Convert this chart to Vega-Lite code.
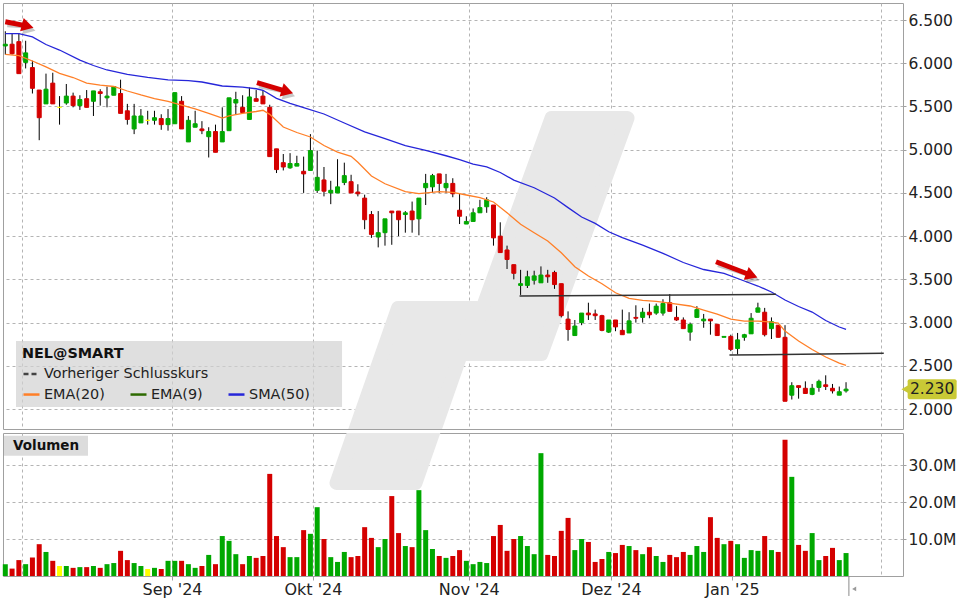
{
  "$schema": "https://vega.github.io/schema/vega-lite/v6.json",
  "padding": {"left": 2, "top": 2, "right": 0, "bottom": 0},
  "background": "white",
  "spacing": 2,
  "config": {
    "font": "DejaVu Sans",
    "view": {"stroke": "#a0a0a0", "strokeWidth": 1},
    "axis": {"labelFont": "DejaVu Sans", "labelFontSize": 15.5, "labelColor": "#222222", "gridColor": "#b4b4b4", "gridDash": [3, 3], "gridWidth": 1, "tickColor": "#a0a0a0", "domain": false}
  },
  "datasets": {
    "ohlc": [
      {"t":1,"o":6.20,"h":6.37,"l":6.10,"c":6.22,"v":3200000},
      {"t":2,"o":6.22,"h":6.34,"l":6.10,"c":6.11,"v":2000000},
      {"t":3,"o":6.25,"h":6.35,"l":5.88,"c":5.88,"v":4300000},
      {"t":4,"o":6.01,"h":6.26,"l":5.94,"c":6.12,"v":3200000},
      {"t":5,"o":5.95,"h":6.03,"l":5.65,"c":5.71,"v":5000000},
      {"t":6,"o":5.69,"h":5.69,"l":5.11,"c":5.37,"v":8600000},
      {"t":7,"o":5.53,"h":5.88,"l":5.53,"c":5.70,"v":6500000},
      {"t":8,"o":5.77,"h":5.89,"l":5.53,"c":5.53,"v":4100000},
      {"t":9,"o":5.49,"h":5.62,"l":5.29,"c":5.49,"v":2700000},
      {"t":10,"o":5.54,"h":5.76,"l":5.52,"c":5.62,"v":2700000},
      {"t":11,"o":5.62,"h":5.66,"l":5.49,"c":5.51,"v":2200000},
      {"t":12,"o":5.51,"h":5.63,"l":5.46,"c":5.58,"v":2400000},
      {"t":13,"o":5.59,"h":5.69,"l":5.49,"c":5.49,"v":2400000},
      {"t":14,"o":5.56,"h":5.68,"l":5.39,"c":5.68,"v":2700000},
      {"t":15,"o":5.67,"h":5.70,"l":5.51,"c":5.65,"v":2200000},
      {"t":16,"o":5.60,"h":5.73,"l":5.49,"c":5.62,"v":3200000},
      {"t":17,"o":5.63,"h":5.73,"l":5.63,"c":5.73,"v":3500000},
      {"t":18,"o":5.65,"h":5.81,"l":5.42,"c":5.42,"v":6800000},
      {"t":19,"o":5.45,"h":5.53,"l":5.29,"c":5.35,"v":4300000},
      {"t":20,"o":5.24,"h":5.53,"l":5.18,"c":5.39,"v":3500000},
      {"t":21,"o":5.31,"h":5.47,"l":5.31,"c":5.39,"v":2700000},
      {"t":22,"o":5.34,"h":5.45,"l":5.29,"c":5.34,"v":1900000},
      {"t":23,"o":5.34,"h":5.45,"l":5.29,"c":5.37,"v":2200000},
      {"t":24,"o":5.36,"h":5.41,"l":5.23,"c":5.29,"v":1900000},
      {"t":25,"o":5.29,"h":5.47,"l":5.22,"c":5.36,"v":4100000},
      {"t":26,"o":5.30,"h":5.66,"l":5.30,"c":5.66,"v":4100000},
      {"t":27,"o":5.56,"h":5.62,"l":5.24,"c":5.24,"v":4100000},
      {"t":28,"o":5.09,"h":5.39,"l":5.09,"c":5.34,"v":3200000},
      {"t":29,"o":5.26,"h":5.45,"l":5.26,"c":5.30,"v":2200000},
      {"t":30,"o":5.24,"h":5.33,"l":5.18,"c":5.22,"v":2700000},
      {"t":31,"o":5.15,"h":5.26,"l":4.91,"c":5.21,"v":5700000},
      {"t":32,"o":5.21,"h":5.29,"l":4.97,"c":4.97,"v":3200000},
      {"t":33,"o":5.09,"h":5.49,"l":5.09,"c":5.21,"v":10800000},
      {"t":34,"o":5.22,"h":5.60,"l":5.22,"c":5.60,"v":9500000},
      {"t":35,"o":5.54,"h":5.67,"l":5.41,"c":5.58,"v":5900000},
      {"t":36,"o":5.49,"h":5.63,"l":5.43,"c":5.43,"v":3200000},
      {"t":37,"o":5.35,"h":5.72,"l":5.35,"c":5.61,"v":5400000},
      {"t":38,"o":5.59,"h":5.69,"l":5.56,"c":5.56,"v":4900000},
      {"t":39,"o":5.62,"h":5.69,"l":5.53,"c":5.53,"v":5400000},
      {"t":40,"o":5.49,"h":5.52,"l":4.92,"c":4.92,"v":27600000},
      {"t":41,"o":5.01,"h":5.01,"l":4.73,"c":4.77,"v":10800000},
      {"t":42,"o":4.85,"h":4.95,"l":4.76,"c":4.80,"v":7800000},
      {"t":43,"o":4.79,"h":4.96,"l":4.78,"c":4.84,"v":5100000},
      {"t":44,"o":4.81,"h":4.93,"l":4.81,"c":4.84,"v":5100000},
      {"t":45,"o":4.75,"h":4.92,"l":4.50,"c":4.72,"v":12400000},
      {"t":46,"o":4.76,"h":5.18,"l":4.76,"c":4.99,"v":11400000},
      {"t":47,"o":4.53,"h":4.99,"l":4.50,"c":4.68,"v":18600000},
      {"t":48,"o":4.65,"h":4.80,"l":4.46,"c":4.52,"v":10000000},
      {"t":49,"o":4.50,"h":4.64,"l":4.37,"c":4.53,"v":5100000},
      {"t":50,"o":4.50,"h":4.89,"l":4.50,"c":4.57,"v":3800000},
      {"t":51,"o":4.62,"h":4.85,"l":4.59,"c":4.70,"v":6500000},
      {"t":52,"o":4.63,"h":4.71,"l":4.50,"c":4.50,"v":5100000},
      {"t":53,"o":4.51,"h":4.60,"l":4.46,"c":4.49,"v":5400000},
      {"t":54,"o":4.44,"h":4.48,"l":4.08,"c":4.19,"v":13200000},
      {"t":55,"o":4.25,"h":4.29,"l":3.98,"c":4.02,"v":10300000},
      {"t":56,"o":3.99,"h":4.29,"l":3.87,"c":4.04,"v":7800000},
      {"t":57,"o":4.04,"h":4.20,"l":3.89,"c":4.20,"v":10000000},
      {"t":58,"o":4.29,"h":4.29,"l":3.90,"c":4.27,"v":21600000},
      {"t":59,"o":4.29,"h":4.29,"l":4.00,"c":4.19,"v":11600000},
      {"t":60,"o":4.25,"h":4.29,"l":4.04,"c":4.27,"v":8100000},
      {"t":61,"o":4.29,"h":4.40,"l":4.04,"c":4.19,"v":7800000},
      {"t":62,"o":4.20,"h":4.44,"l":4.01,"c":4.44,"v":23200000},
      {"t":63,"o":4.56,"h":4.72,"l":4.36,"c":4.61,"v":12400000},
      {"t":64,"o":4.57,"h":4.72,"l":4.50,"c":4.70,"v":7300000},
      {"t":65,"o":4.72,"h":4.72,"l":4.50,"c":4.61,"v":5400000},
      {"t":66,"o":4.56,"h":4.72,"l":4.50,"c":4.61,"v":4900000},
      {"t":67,"o":4.61,"h":4.67,"l":4.45,"c":4.49,"v":5400000},
      {"t":68,"o":4.30,"h":4.49,"l":4.14,"c":4.23,"v":7000000},
      {"t":69,"o":4.14,"h":4.23,"l":4.14,"c":4.17,"v":4100000},
      {"t":70,"o":4.17,"h":4.32,"l":4.17,"c":4.27,"v":3200000},
      {"t":71,"o":4.27,"h":4.42,"l":4.27,"c":4.33,"v":3800000},
      {"t":72,"o":4.34,"h":4.45,"l":4.27,"c":4.42,"v":3500000},
      {"t":73,"o":4.36,"h":4.36,"l":3.89,"c":3.98,"v":10800000},
      {"t":74,"o":4.00,"h":4.16,"l":3.81,"c":3.81,"v":13800000},
      {"t":75,"o":3.84,"h":3.89,"l":3.62,"c":3.73,"v":6800000},
      {"t":76,"o":3.67,"h":3.67,"l":3.50,"c":3.57,"v":10000000},
      {"t":77,"o":3.43,"h":3.61,"l":3.32,"c":3.45,"v":10800000},
      {"t":78,"o":3.43,"h":3.60,"l":3.40,"c":3.53,"v":8100000},
      {"t":79,"o":3.49,"h":3.60,"l":3.44,"c":3.54,"v":5900000},
      {"t":80,"o":3.46,"h":3.65,"l":3.46,"c":3.55,"v":33200000},
      {"t":81,"o":3.55,"h":3.61,"l":3.46,"c":3.53,"v":5700000},
      {"t":82,"o":3.58,"h":3.60,"l":3.39,"c":3.44,"v":5400000},
      {"t":83,"o":3.45,"h":3.45,"l":3.06,"c":3.08,"v":12200000},
      {"t":84,"o":3.04,"h":3.13,"l":2.79,"c":2.92,"v":15700000},
      {"t":85,"o":2.85,"h":3.03,"l":2.85,"c":2.96,"v":7000000},
      {"t":86,"o":3.00,"h":3.11,"l":2.97,"c":3.11,"v":10000000},
      {"t":87,"o":3.11,"h":3.23,"l":3.03,"c":3.09,"v":9200000},
      {"t":88,"o":3.10,"h":3.15,"l":3.03,"c":3.08,"v":3800000},
      {"t":89,"o":3.08,"h":3.09,"l":2.90,"c":2.91,"v":4600000},
      {"t":90,"o":2.89,"h":3.03,"l":2.88,"c":3.03,"v":6500000},
      {"t":91,"o":3.03,"h":3.03,"l":2.90,"c":2.95,"v":6200000},
      {"t":92,"o":2.91,"h":3.15,"l":2.86,"c":2.86,"v":8400000},
      {"t":93,"o":2.88,"h":3.12,"l":2.88,"c":3.02,"v":8100000},
      {"t":94,"o":3.06,"h":3.20,"l":3.00,"c":3.05,"v":7000000},
      {"t":95,"o":3.06,"h":3.17,"l":3.00,"c":3.12,"v":5900000},
      {"t":96,"o":3.12,"h":3.22,"l":3.05,"c":3.09,"v":7800000},
      {"t":97,"o":3.11,"h":3.22,"l":3.09,"c":3.19,"v":5400000},
      {"t":98,"o":3.11,"h":3.27,"l":3.08,"c":3.22,"v":3800000},
      {"t":99,"o":3.23,"h":3.33,"l":3.13,"c":3.13,"v":5700000},
      {"t":100,"o":3.06,"h":3.19,"l":3.02,"c":3.03,"v":5100000},
      {"t":101,"o":3.03,"h":3.06,"l":2.93,"c":2.93,"v":6500000},
      {"t":102,"o":2.89,"h":3.00,"l":2.79,"c":2.98,"v":5700000},
      {"t":103,"o":3.06,"h":3.19,"l":3.06,"c":3.15,"v":8100000},
      {"t":104,"o":3.02,"h":3.10,"l":2.94,"c":3.04,"v":6500000},
      {"t":105,"o":3.04,"h":3.04,"l":2.86,"c":3.02,"v":15900000},
      {"t":106,"o":2.98,"h":2.98,"l":2.85,"c":2.85,"v":10300000},
      {"t":107,"o":2.83,"h":2.84,"l":2.83,"c":2.84,"v":8600000},
      {"t":108,"o":2.84,"h":2.86,"l":2.67,"c":2.69,"v":9500000},
      {"t":109,"o":2.70,"h":2.88,"l":2.63,"c":2.80,"v":8600000},
      {"t":110,"o":2.83,"h":2.87,"l":2.79,"c":2.86,"v":4900000},
      {"t":111,"o":2.87,"h":3.11,"l":2.87,"c":3.05,"v":7000000},
      {"t":112,"o":3.12,"h":3.23,"l":3.12,"c":3.17,"v":6800000},
      {"t":113,"o":3.12,"h":3.17,"l":2.84,"c":2.86,"v":10800000},
      {"t":114,"o":2.93,"h":3.06,"l":2.81,"c":3.01,"v":7000000},
      {"t":115,"o":2.97,"h":2.97,"l":2.83,"c":2.83,"v":6500000},
      {"t":116,"o":2.83,"h":2.97,"l":2.09,"c":2.09,"v":36800000},
      {"t":117,"o":2.16,"h":2.31,"l":2.11,"c":2.27,"v":26800000},
      {"t":118,"o":2.27,"h":2.27,"l":2.12,"c":2.25,"v":8400000},
      {"t":119,"o":2.24,"h":2.32,"l":2.18,"c":2.18,"v":6800000},
      {"t":120,"o":2.17,"h":2.29,"l":2.16,"c":2.24,"v":11600000},
      {"t":121,"o":2.25,"h":2.34,"l":2.20,"c":2.32,"v":4300000},
      {"t":122,"o":2.28,"h":2.39,"l":2.22,"c":2.26,"v":5400000},
      {"t":123,"o":2.24,"h":2.29,"l":2.18,"c":2.21,"v":7600000},
      {"t":124,"o":2.16,"h":2.26,"l":2.16,"c":2.20,"v":4300000},
      {"t":125,"o":2.21,"h":2.31,"l":2.19,"c":2.23,"v":6200000}
    ],
    "ma": [
      {"s":"EMA(20)","t":1,"p":6.103},{"s":"EMA(20)","t":3,"p":6.088},{"s":"EMA(20)","t":5,"p":6.026},{"s":"EMA(20)","t":7,"p":5.957},
      {"s":"EMA(20)","t":9,"p":5.884},{"s":"EMA(20)","t":11,"p":5.835},{"s":"EMA(20)","t":13,"p":5.771},{"s":"EMA(20)","t":15,"p":5.748},
      {"s":"EMA(20)","t":17,"p":5.731},{"s":"EMA(20)","t":19,"p":5.679},{"s":"EMA(20)","t":21,"p":5.633},{"s":"EMA(20)","t":23,"p":5.592},
      {"s":"EMA(20)","t":25,"p":5.559},{"s":"EMA(20)","t":27,"p":5.517},{"s":"EMA(20)","t":29,"p":5.471},{"s":"EMA(20)","t":31,"p":5.421},
      {"s":"EMA(20)","t":33,"p":5.366},{"s":"EMA(20)","t":34,"p":5.390},{"s":"EMA(20)","t":36,"p":5.419},{"s":"EMA(20)","t":38,"p":5.442},
      {"s":"EMA(20)","t":39,"p":5.456},{"s":"EMA(20)","t":40,"p":5.409},{"s":"EMA(20)","t":42,"p":5.262},{"s":"EMA(20)","t":44,"p":5.199},
      {"s":"EMA(20)","t":46,"p":5.147},{"s":"EMA(20)","t":48,"p":5.048},{"s":"EMA(20)","t":50,"p":4.973},{"s":"EMA(20)","t":52,"p":4.923},
      {"s":"EMA(20)","t":53,"p":4.854},{"s":"EMA(20)","t":55,"p":4.696},{"s":"EMA(20)","t":57,"p":4.606},{"s":"EMA(20)","t":60,"p":4.514},
      {"s":"EMA(20)","t":62,"p":4.491},{"s":"EMA(20)","t":65,"p":4.514},{"s":"EMA(20)","t":67,"p":4.507},{"s":"EMA(20)","t":69,"p":4.476},
      {"s":"EMA(20)","t":71,"p":4.445},{"s":"EMA(20)","t":73,"p":4.395},{"s":"EMA(20)","t":75,"p":4.271},{"s":"EMA(20)","t":77,"p":4.137},
      {"s":"EMA(20)","t":79,"p":4.040},{"s":"EMA(20)","t":81,"p":3.944},{"s":"EMA(20)","t":83,"p":3.808},{"s":"EMA(20)","t":85,"p":3.646},
      {"s":"EMA(20)","t":87,"p":3.539},{"s":"EMA(20)","t":89,"p":3.450},{"s":"EMA(20)","t":91,"p":3.345},{"s":"EMA(20)","t":93,"p":3.281},
      {"s":"EMA(20)","t":95,"p":3.257},{"s":"EMA(20)","t":97,"p":3.246},{"s":"EMA(20)","t":99,"p":3.226},{"s":"EMA(20)","t":102,"p":3.192},
      {"s":"EMA(20)","t":104,"p":3.145},{"s":"EMA(20)","t":106,"p":3.099},{"s":"EMA(20)","t":108,"p":3.041},{"s":"EMA(20)","t":110,"p":3.018},
      {"s":"EMA(20)","t":112,"p":3.018},{"s":"EMA(20)","t":114,"p":3.006},{"s":"EMA(20)","t":115,"p":2.995},{"s":"EMA(20)","t":116,"p":2.902},
      {"s":"EMA(20)","t":118,"p":2.787},{"s":"EMA(20)","t":120,"p":2.688},{"s":"EMA(20)","t":122,"p":2.602},{"s":"EMA(20)","t":124,"p":2.532},
      {"s":"EMA(20)","t":125,"p":2.506},
      {"s":"SMA(50)","t":1,"p":6.342},{"s":"SMA(50)","t":3,"p":6.342},{"s":"SMA(50)","t":5,"p":6.304},{"s":"SMA(50)","t":7,"p":6.217},
      {"s":"SMA(50)","t":9,"p":6.153},{"s":"SMA(50)","t":12,"p":6.037},{"s":"SMA(50)","t":14,"p":5.974},{"s":"SMA(50)","t":16,"p":5.922},
      {"s":"SMA(50)","t":19,"p":5.872},{"s":"SMA(50)","t":22,"p":5.837},{"s":"SMA(50)","t":25,"p":5.808},{"s":"SMA(50)","t":28,"p":5.798},
      {"s":"SMA(50)","t":30,"p":5.783},{"s":"SMA(50)","t":33,"p":5.737},{"s":"SMA(50)","t":36,"p":5.725},{"s":"SMA(50)","t":38,"p":5.705},
      {"s":"SMA(50)","t":39,"p":5.687},{"s":"SMA(50)","t":41,"p":5.594},{"s":"SMA(50)","t":43,"p":5.537},{"s":"SMA(50)","t":45,"p":5.486},
      {"s":"SMA(50)","t":48,"p":5.413},{"s":"SMA(50)","t":51,"p":5.309},{"s":"SMA(50)","t":54,"p":5.207},{"s":"SMA(50)","t":57,"p":5.129},
      {"s":"SMA(50)","t":60,"p":5.046},{"s":"SMA(50)","t":63,"p":4.991},{"s":"SMA(50)","t":66,"p":4.930},{"s":"SMA(50)","t":68,"p":4.886},
      {"s":"SMA(50)","t":70,"p":4.834},{"s":"SMA(50)","t":72,"p":4.800},{"s":"SMA(50)","t":74,"p":4.736},{"s":"SMA(50)","t":76,"p":4.649},
      {"s":"SMA(50)","t":79,"p":4.560},{"s":"SMA(50)","t":82,"p":4.441},{"s":"SMA(50)","t":84,"p":4.330},{"s":"SMA(50)","t":86,"p":4.221},
      {"s":"SMA(50)","t":88,"p":4.148},{"s":"SMA(50)","t":90,"p":4.051},{"s":"SMA(50)","t":92,"p":3.982},{"s":"SMA(50)","t":95,"p":3.897},
      {"s":"SMA(50)","t":98,"p":3.801},{"s":"SMA(50)","t":101,"p":3.695},{"s":"SMA(50)","t":104,"p":3.614},{"s":"SMA(50)","t":107,"p":3.568},
      {"s":"SMA(50)","t":110,"p":3.481},{"s":"SMA(50)","t":112,"p":3.423},{"s":"SMA(50)","t":114,"p":3.354},{"s":"SMA(50)","t":116,"p":3.261},
      {"s":"SMA(50)","t":118,"p":3.186},{"s":"SMA(50)","t":120,"p":3.122},{"s":"SMA(50)","t":122,"p":3.024},{"s":"SMA(50)","t":124,"p":2.949},
      {"s":"SMA(50)","t":125,"p":2.922}
    ],
    "trend": [
      {"g":1,"t":76.85,"p":3.307},{"g":1,"t":114.67,"p":3.327},
      {"g":2,"t":107.8,"p":2.625},{"g":2,"t":130.56,"p":2.644}
    ],
    "arrows": [
      {"t1":1.0,"p1":6.48,"t2":4.3,"p2":6.43,"a":15},
      {"t1":38.12,"p1":5.775,"t2":42.6,"p2":5.672,"a":17},
      {"t1":105.82,"p1":3.704,"t2":111.1,"p2":3.545,"a":21}
    ],
    "wm1": [
      {"g":1,"p":5.366,"a":81.56,"b":92.77},
      {"g":1,"p":2.636,"a":68.92,"b":80.05},
      {"g":2,"p":3.168,"a":58.92,"b":70.57},
      {"g":2,"p":1.63,"a":52.06,"b":63.71}
    ],
    "wm2": [
      {"v":42160000,"a":53.09,"b":64.74},
      {"v":25140000,"a":49.85,"b":61.50}
    ]
  },
  "vconcat": [
    {
      "width": 900,
      "height": 426,
      "layer": [
        {
          "data": {"name": "wm1"},
          "mark": {"type": "area", "orient": "horizontal", "color": "#e8e8e8", "stroke": "#e8e8e8", "strokeWidth": 14, "strokeJoin": "round", "clip": true},
          "encoding": {
            "y": {"field": "p", "type": "quantitative", "title": null, "scale": {"domain": [1.769, 6.697], "nice": false, "zero": false, "padding": 0},
                  "axis": {"orient": "right", "values": [2, 2.5, 3, 3.5, 4, 4.5, 5, 5.5, 6, 6.5], "format": ".3f", "tickSize": 3, "labelPadding": 2, "grid": true, "title": null}},
            "x": {"field": "a", "type": "quantitative", "title": null, "scale": {"domain": [0.66, 133.4], "nice": false, "zero": false, "padding": 0},
                  "axis": {"values": [3.46, 25.59, 46.38, 69.35, 90.33, 108.18, 130.15], "labels": false, "ticks": false, "domain": false, "grid": true, "title": null}},
            "x2": {"field": "b"},
            "detail": {"field": "g", "type": "nominal"}
          }
        },
        {
          "data": {"values": [{}]},
          "mark": {"type": "rect", "color": "#d2d2d2", "opacity": 0.7},
          "encoding": {
            "x": {"datum": 2.58, "type": "quantitative", "title": null},
            "x2": {"datum": 50.66},
            "y": {"datum": 2.787, "type": "quantitative", "title": null},
            "y2": {"datum": 2.023}
          }
        },
        {
          "data": {"name": "ohlc"},
          "mark": {"type": "rule", "color": "#000000", "strokeWidth": 1},
          "encoding": {
            "x": {"field": "t", "type": "quantitative", "title": null},
            "y": {"field": "l", "type": "quantitative", "title": null},
            "y2": {"field": "h"}
          }
        },
        {
          "data": {"name": "ohlc"},
          "mark": {"type": "bar", "width": 4, "strokeWidth": 1},
          "encoding": {
            "x": {"field": "t", "type": "quantitative", "title": null},
            "y": {"field": "o", "type": "quantitative", "title": null},
            "y2": {"field": "c"},
            "fill": {"condition": [{"test": "datum.c > datum.o", "value": "#00a800"}, {"test": "datum.c < datum.o", "value": "#d40000"}], "value": "#ffff00"},
            "stroke": {"condition": [{"test": "datum.c > datum.o", "value": "#00a800"}, {"test": "datum.c < datum.o", "value": "#d40000"}], "value": "#ffff00"}
          }
        },
        {
          "data": {"name": "ma"},
          "mark": {"type": "line", "strokeWidth": 1.3},
          "encoding": {
            "x": {"field": "t", "type": "quantitative", "title": null},
            "y": {"field": "p", "type": "quantitative", "title": null},
            "color": {
              "field": "s", "type": "nominal",
              "scale": {"domain": ["EMA(20)", "EMA(9)", "SMA(50)"], "range": ["#ff7f27", "#2d6a00", "#2626d9"]},
              "legend": {
                "orient": "none", "legendX": 13, "legendY": 376, "title": null,
                "direction": "horizontal", "columns": 3,
                "symbolType": "stroke", "symbolSize": 256, "symbolStrokeWidth": 2.5,
                "labelFont": "DejaVu Sans", "labelFontSize": 14.4, "labelColor": "#222222", "labelOffset": 3, "labelLimit": 300,
                "columnPadding": 20, "padding": 6
              }
            }
          }
        },
        {
          "data": {"values": [{}]},
          "mark": {"type": "rule", "color": "#444444", "strokeOpacity": 0},
          "encoding": {
            "y": {"datum": 1.8, "type": "quantitative", "title": null},
            "strokeDash": {
              "datum": "Vorheriger Schlusskurs", "type": "nominal",
              "scale": {"domain": ["Vorheriger Schlusskurs"], "range": [[5, 3]]},
              "legend": {
                "orient": "none", "legendX": 13, "legendY": 338,
                "title": "NEL@SMART", "titleFont": "DejaVu Sans", "titleFontSize": 14.4, "titleFontWeight": "bold", "titleColor": "#111111", "titlePadding": 3,
                "symbolType": "stroke", "symbolSize": 256, "symbolStrokeWidth": 2.5, "symbolStrokeColor": "#444444", "symbolOpacity": 1,
                "labelFont": "DejaVu Sans", "labelFontSize": 14.4, "labelColor": "#222222", "labelOffset": 3, "labelLimit": 300,
                "padding": 6,
                "encode": {"symbols": {"update": {"strokeOpacity": {"value": 1}, "opacity": {"value": 1}, "stroke": {"value": "#444444"}}}}
              }
            }
          }
        },
        {
          "data": {"name": "trend"},
          "mark": {"type": "line", "color": "#333333", "strokeWidth": 1.5},
          "encoding": {
            "x": {"field": "t", "type": "quantitative", "title": null},
            "y": {"field": "p", "type": "quantitative", "title": null},
            "detail": {"field": "g", "type": "nominal"}
          }
        },
        {
          "data": {"name": "arrows"},
          "mark": {"type": "rule", "color": "#000000", "opacity": 0.22, "strokeWidth": 5, "xOffset": 2, "yOffset": 3},
          "encoding": {
            "x": {"field": "t1", "type": "quantitative", "title": null},
            "y": {"field": "p1", "type": "quantitative", "title": null},
            "x2": {"field": "t2"},
            "y2": {"field": "p2"}
          }
        },
        {
          "data": {"name": "arrows"},
          "mark": {"type": "point", "shape": "triangle-right", "filled": true, "size": 190, "color": "#000000", "opacity": 0.22, "xOffset": 2, "yOffset": 3},
          "encoding": {
            "x": {"field": "t2", "type": "quantitative", "title": null},
            "y": {"field": "p2", "type": "quantitative", "title": null},
            "angle": {"field": "a", "type": "quantitative", "scale": null}
          }
        },
        {
          "data": {"name": "arrows"},
          "mark": {"type": "rule", "color": "#d40000", "strokeWidth": 5},
          "encoding": {
            "x": {"field": "t1", "type": "quantitative", "title": null},
            "y": {"field": "p1", "type": "quantitative", "title": null},
            "x2": {"field": "t2"},
            "y2": {"field": "p2"}
          }
        },
        {
          "data": {"name": "arrows"},
          "mark": {"type": "point", "shape": "triangle-right", "filled": true, "size": 190, "color": "#d40000", "opacity": 1},
          "encoding": {
            "x": {"field": "t2", "type": "quantitative", "title": null},
            "y": {"field": "p2", "type": "quantitative", "title": null},
            "angle": {"field": "a", "type": "quantitative", "scale": null}
          }
        },
        {
          "data": {"name": "ohlc"},
          "transform": [{"filter": "datum.t == 125"}],
          "mark": {"type": "point", "shape": "triangle-left", "filled": true, "size": 70, "color": "#c9c936", "opacity": 1},
          "encoding": {
            "x": {"datum": 133.7, "type": "quantitative", "title": null},
            "y": {"field": "c", "type": "quantitative", "title": null}
          }
        },
        {
          "data": {"name": "ohlc"},
          "transform": [{"filter": "datum.t == 125"}],
          "mark": {"type": "tick", "orient": "horizontal", "size": 49, "thickness": 20, "color": "#c9c936", "opacity": 1, "cornerRadius": 2},
          "encoding": {
            "x": {"datum": 137.7, "type": "quantitative", "title": null},
            "y": {"field": "c", "type": "quantitative", "title": null}
          }
        },
        {
          "data": {"name": "ohlc"},
          "transform": [{"filter": "datum.t == 125"}],
          "mark": {"type": "text", "font": "DejaVu Sans", "fontSize": 15.5, "color": "#222222", "align": "center", "baseline": "middle"},
          "encoding": {
            "x": {"datum": 137.7, "type": "quantitative", "title": null},
            "y": {"field": "c", "type": "quantitative", "title": null},
            "text": {"field": "c", "type": "quantitative", "format": ".3f"}
          }
        }
      ]
    },
    {
      "width": 900,
      "height": 143,
      "layer": [
        {
          "data": {"name": "wm2"},
          "mark": {"type": "area", "orient": "horizontal", "color": "#e8e8e8", "stroke": "#e8e8e8", "strokeWidth": 14, "strokeJoin": "round", "clip": true},
          "encoding": {
            "y": {"field": "v", "type": "quantitative", "title": null, "scale": {"domain": [0, 38650000], "nice": false, "zero": false, "padding": 0},
                  "axis": {"orient": "right", "values": [10000000, 20000000, 30000000], "labelExpr": "format(datum.value / 1000000, '.1f') + 'M'", "tickSize": 3, "labelPadding": 2, "grid": true, "title": null}},
            "x": {"field": "a", "type": "quantitative", "title": null, "scale": {"domain": [0.66, 133.4], "nice": false, "zero": false, "padding": 0},
                  "axis": {"values": [3.46, 25.59, 46.38, 69.35, 90.33, 108.18, 130.15], "labelExpr": "datum.value == 25.59 ? \"Sep '24\" : datum.value == 46.38 ? \"Okt '24\" : datum.value == 69.35 ? \"Nov '24\" : datum.value == 90.33 ? \"Dez '24\" : datum.value == 108.18 ? \"Jan '25\" : ''",
                           "labelFontSize": 16, "labelPadding": 1, "tickSize": 4, "ticks": true,
                           "tickOpacity": {"condition": {"test": "datum.value < 5 || datum.value > 120", "value": 0}, "value": 1},
                           "grid": true, "domain": false, "labelFlush": false, "labelOverlap": false, "title": null}},
            "x2": {"field": "b"}
          }
        },
        {
          "data": {"name": "ohlc"},
          "mark": {"type": "bar", "width": 5},
          "encoding": {
            "x": {"field": "t", "type": "quantitative", "title": null},
            "y": {"field": "v", "type": "quantitative", "title": null},
            "color": {"condition": [{"test": "datum.c > datum.o", "value": "#00a800"}, {"test": "datum.c < datum.o", "value": "#d40000"}], "value": "#ffff00"}
          }
        },
        {
          "data": {"values": [{}]},
          "mark": {"type": "rect", "color": "#dcdcdc"},
          "encoding": {
            "x": {"datum": 0.81, "type": "quantitative", "title": null},
            "x2": {"datum": 13.2},
            "y": {"datum": 37900000, "type": "quantitative", "title": null},
            "y2": {"datum": 32500000}
          }
        },
        {
          "data": {"values": [{}]},
          "mark": {"type": "text", "text": "Volumen", "font": "DejaVu Sans", "fontSize": 13.5, "fontWeight": "bold", "color": "#111111", "align": "left", "baseline": "middle"},
          "encoding": {
            "x": {"datum": 2.14, "type": "quantitative", "title": null},
            "y": {"datum": 35200000, "type": "quantitative", "title": null}
          }
        },
        {
          "data": {"values": [{}]},
          "mark": {"type": "rule", "color": "#8a8a8a", "strokeWidth": 1},
          "encoding": {
            "x": {"datum": 125.42, "type": "quantitative", "title": null},
            "y": {"datum": 0, "type": "quantitative", "title": null},
            "y2": {"datum": -5400000}
          }
        },
        {
          "data": {"values": [{}]},
          "mark": {"type": "point", "shape": "triangle-left", "filled": true, "size": 22, "color": "#9a9a9a", "opacity": 1},
          "encoding": {
            "x": {"datum": 126.2, "type": "quantitative", "title": null},
            "y": {"datum": -3500000, "type": "quantitative", "title": null}
          }
        }
      ]
    }
  ]
}
